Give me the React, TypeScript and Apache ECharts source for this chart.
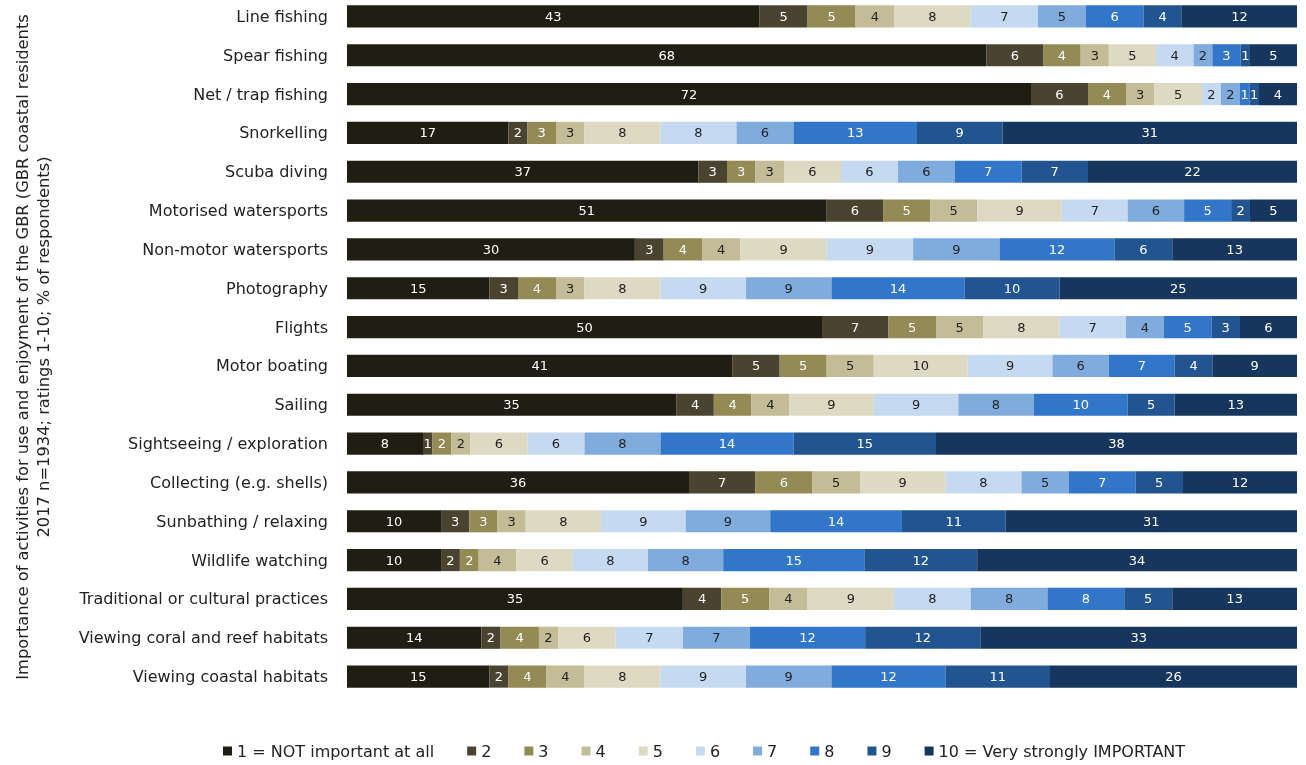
import React, { useEffect, useRef } from "react";
import * as echarts from "echarts";

const categories = [
  "Line fishing",
  "Spear fishing",
  "Net / trap fishing",
  "Snorkelling",
  "Scuba diving",
  "Motorised watersports",
  "Non-motor watersports",
  "Photography",
  "Flights",
  "Motor boating",
  "Sailing",
  "Sightseeing / exploration",
  "Collecting (e.g. shells)",
  "Sunbathing / relaxing",
  "Wildlife watching",
  "Traditional or cultural practices",
  "Viewing coral and reef habitats",
  "Viewing coastal habitats",
];

const rating1 = [43, 68, 72, 17, 37, 51, 30, 15, 50, 41, 35, 8, 36, 10, 10, 35, 14, 15];
const rating2 = [5, 6, 6, 2, 3, 6, 3, 3, 7, 5, 4, 1, 7, 3, 2, 4, 2, 2];
const rating3 = [5, 4, 4, 3, 3, 5, 4, 4, 5, 5, 4, 2, 6, 3, 2, 5, 4, 4];
const rating4 = [4, 3, 3, 3, 3, 5, 4, 3, 5, 5, 4, 2, 5, 3, 4, 4, 2, 4];
const rating5 = [8, 5, 5, 8, 6, 9, 9, 8, 8, 10, 9, 6, 9, 8, 6, 9, 6, 8];
const rating6 = [7, 4, 2, 8, 6, 7, 9, 9, 7, 9, 9, 6, 8, 9, 8, 8, 7, 9];
const rating7 = [5, 2, 2, 6, 6, 6, 9, 9, 4, 6, 8, 8, 5, 9, 8, 8, 7, 9];
const rating8 = [6, 3, 1, 13, 7, 5, 12, 14, 5, 7, 10, 14, 7, 14, 15, 8, 12, 12];
const rating9 = [4, 1, 1, 9, 7, 2, 6, 10, 3, 4, 5, 15, 5, 11, 12, 5, 12, 11];
const rating10 = [12, 5, 4, 31, 22, 5, 13, 25, 6, 9, 13, 38, 12, 31, 34, 13, 33, 26];

const seriesNames = [
  "1 = NOT important at all",
  "2",
  "3",
  "4",
  "5",
  "6",
  "7",
  "8",
  "9",
  "10 = Very strongly IMPORTANT",
];

const ratings = [rating1, rating2, rating3, rating4, rating5, rating6, rating7, rating8, rating9, rating10];

const colors = [
  "#201d12",
  "#4a4330",
  "#938a55",
  "#c4bc96",
  "#ddd9c3",
  "#c5d9f1",
  "#80abdd",
  "#3176c8",
  "#22558f",
  "#17365d",
];

const labelColors = [
  "#ffffff",
  "#ffffff",
  "#ffffff",
  "#222222",
  "#222222",
  "#222222",
  "#222222",
  "#ffffff",
  "#ffffff",
  "#ffffff",
];

const FONT = "'DejaVu Sans', 'Open Sans', sans-serif";

export default function App() {
  const ref = useRef<HTMLDivElement>(null);

  useEffect(() => {
    if (!ref.current) return;
    const chart = echarts.init(ref.current, null, { renderer: "svg" });

    const totals = categories.map((_, i) =>
      ratings.reduce((s, r) => s + r[i], 0)
    );

    const series = ratings.map((r, k) => ({
      name: seriesNames[k],
      type: "bar",
      stack: "total",
      barCategoryGap: "43%",
      itemStyle: { color: colors[k] },
      label: {
        show: true,
        position: "inside",
        color: labelColors[k],
        fontFamily: FONT,
        fontSize: 13,
        formatter: (p: any) => String(r[p.dataIndex]),
      },
      data: r.map((v, i) => (v / totals[i]) * 100),
    }));

    chart.setOption({
      animation: false,
      textStyle: { fontFamily: FONT },
      grid: { left: 347, right: 9, top: 0, height: 699, containLabel: false },
      xAxis: {
        type: "value",
        min: 0,
        max: 100,
        show: false,
      },
      yAxis: {
        type: "category",
        data: categories,
        inverse: true,
        axisLine: { show: false },
        axisTick: { show: false },
        axisLabel: {
          margin: 19,
          color: "#222222",
          fontSize: 16,
          fontFamily: FONT,
        },
      },
      legend: {
        top: 741,
        left: 218,
        itemWidth: 9,
        itemHeight: 9,
        itemGap: 33,
        icon: "rect",
        textStyle: { fontSize: 16, color: "#222222", fontFamily: FONT },
        data: seriesNames,
      },
      graphic: [
        {
          type: "text",
          x: 33,
          y: 350,
          rotation: Math.PI / 2,
          style: {
            text:
              "Importance of activities for use and enjoyment of the GBR (GBR coastal residents\n2017 n=1934; ratings 1-10; % of respondents)",
            fontSize: 16.3,
            fontFamily: FONT,
            fill: "#222222",
            textAlign: "center",
            textVerticalAlign: "middle",
            lineHeight: 21,
          },
        },
      ],
      series,
    });

    return () => chart.dispose();
  }, []);

  return (
    <div
      ref={ref}
      style={{ position: "fixed", left: 0, top: -3, width: 1306, height: 768 }}
    />
  );
}
